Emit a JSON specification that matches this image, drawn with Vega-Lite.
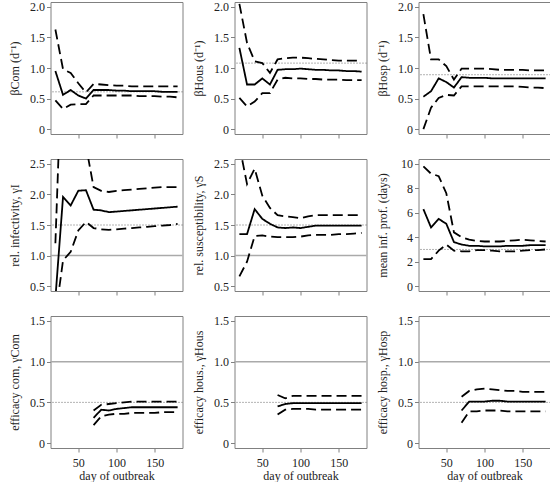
{
"$schema": "https://vega.github.io/schema/vega-lite/v6.json",
"padding": {"left": 7.5, "top": 0, "right": 0, "bottom": 0},
"background": "white",
"bounds": "flush",
"columns": 3,
"spacing": {"row": 25, "column": 52},
"config": {
  "font": "Liberation Serif",
  "view": {"stroke": "#808080", "strokeWidth": 1},
  "axis": {"domain": false, "grid": false, "tickColor": "#808080", "tickSize": 4, "labelFontSize": 12, "titleFontSize": 12, "labelColor": "#222", "titleColor": "#222", "titleFontWeight": "normal", "labelFont": "Liberation Serif", "titleFont": "Liberation Serif", "labelOverlap": false},
  "axisY": {"labelPadding": 2, "titleX": -36, "titleY": 66, "titleBaseline": "middle"},
  "axisX": {"labelPadding": 5, "titlePadding": 2, "labelFlush": false},
  "line": {"color": "black", "strokeWidth": 1.8}
},
"datasets": {
"est": [
{"p":"A","d":20,"m":0.95,"l":0.47,"u":1.63},{"p":"A","d":30,"m":0.56,"l":0.33,"u":0.98},{"p":"A","d":40,"m":0.64,"l":0.40,"u":0.92},{"p":"A","d":50,"m":0.55,"l":0.41,"u":0.75},{"p":"A","d":60,"m":0.50,"l":0.41,"u":0.60},{"p":"A","d":70,"m":0.64,"l":0.55,"u":0.74},{"p":"A","d":80,"m":0.64,"l":0.55,"u":0.73},{"p":"A","d":90,"m":0.64,"l":0.55,"u":0.72},{"p":"A","d":100,"m":0.63,"l":0.55,"u":0.71},{"p":"A","d":110,"m":0.63,"l":0.55,"u":0.71},{"p":"A","d":120,"m":0.62,"l":0.55,"u":0.70},{"p":"A","d":130,"m":0.62,"l":0.54,"u":0.70},{"p":"A","d":140,"m":0.62,"l":0.54,"u":0.70},{"p":"A","d":150,"m":0.62,"l":0.54,"u":0.70},{"p":"A","d":160,"m":0.61,"l":0.53,"u":0.70},{"p":"A","d":170,"m":0.61,"l":0.53,"u":0.70},{"p":"A","d":180,"m":0.61,"l":0.52,"u":0.70},
{"p":"B","d":20,"m":1.33,"l":0.51,"u":2.05},{"p":"B","d":30,"m":0.73,"l":0.37,"u":1.41},{"p":"B","d":40,"m":0.73,"l":0.45,"u":1.11},{"p":"B","d":50,"m":0.83,"l":0.59,"u":1.08},{"p":"B","d":60,"m":0.73,"l":0.59,"u":0.92},{"p":"B","d":70,"m":0.97,"l":0.81,"u":1.14},{"p":"B","d":80,"m":0.98,"l":0.84,"u":1.16},{"p":"B","d":90,"m":0.98,"l":0.83,"u":1.17},{"p":"B","d":100,"m":0.99,"l":0.83,"u":1.17},{"p":"B","d":110,"m":0.98,"l":0.82,"u":1.16},{"p":"B","d":120,"m":0.97,"l":0.82,"u":1.15},{"p":"B","d":130,"m":0.97,"l":0.81,"u":1.14},{"p":"B","d":140,"m":0.96,"l":0.81,"u":1.13},{"p":"B","d":150,"m":0.96,"l":0.81,"u":1.12},{"p":"B","d":160,"m":0.95,"l":0.80,"u":1.12},{"p":"B","d":170,"m":0.95,"l":0.80,"u":1.12},{"p":"B","d":180,"m":0.94,"l":0.80,"u":1.12},
{"p":"C","d":20,"m":0.53,"l":0.00,"u":1.88},{"p":"C","d":30,"m":0.62,"l":0.35,"u":1.14},{"p":"C","d":40,"m":0.83,"l":0.51,"u":1.14},{"p":"C","d":50,"m":0.77,"l":0.56,"u":1.03},{"p":"C","d":60,"m":0.68,"l":0.55,"u":0.81},{"p":"C","d":70,"m":0.85,"l":0.70,"u":0.99},{"p":"C","d":80,"m":0.84,"l":0.70,"u":0.99},{"p":"C","d":90,"m":0.84,"l":0.70,"u":0.99},{"p":"C","d":100,"m":0.84,"l":0.70,"u":0.99},{"p":"C","d":110,"m":0.83,"l":0.70,"u":0.98},{"p":"C","d":120,"m":0.83,"l":0.70,"u":0.97},{"p":"C","d":130,"m":0.83,"l":0.70,"u":0.97},{"p":"C","d":140,"m":0.83,"l":0.70,"u":0.97},{"p":"C","d":150,"m":0.83,"l":0.69,"u":0.97},{"p":"C","d":160,"m":0.83,"l":0.68,"u":0.96},{"p":"C","d":170,"m":0.83,"l":0.68,"u":0.96},{"p":"C","d":180,"m":0.83,"l":0.67,"u":0.96},
{"p":"D","d":20,"m":0.3,"l":0.0,"u":1.2},{"p":"D","d":30,"m":1.96,"l":0.92,"u":4.7},{"p":"D","d":40,"m":1.82,"l":1.06,"u":4.5},{"p":"D","d":50,"m":2.06,"l":1.41,"u":4.0},{"p":"D","d":60,"m":2.07,"l":1.55,"u":2.8},{"p":"D","d":70,"m":1.75,"l":1.45,"u":2.12},{"p":"D","d":80,"m":1.74,"l":1.43,"u":2.06},{"p":"D","d":90,"m":1.71,"l":1.42,"u":2.04},{"p":"D","d":100,"m":1.72,"l":1.43,"u":2.06},{"p":"D","d":110,"m":1.73,"l":1.44,"u":2.07},{"p":"D","d":120,"m":1.74,"l":1.45,"u":2.08},{"p":"D","d":130,"m":1.75,"l":1.46,"u":2.09},{"p":"D","d":140,"m":1.76,"l":1.47,"u":2.10},{"p":"D","d":150,"m":1.77,"l":1.48,"u":2.11},{"p":"D","d":160,"m":1.78,"l":1.49,"u":2.12},{"p":"D","d":170,"m":1.79,"l":1.50,"u":2.12},{"p":"D","d":180,"m":1.80,"l":1.52,"u":2.12},
{"p":"E","d":20,"m":1.35,"l":0.66,"u":2.8},{"p":"E","d":30,"m":1.35,"l":0.9,"u":2.17},{"p":"E","d":40,"m":1.76,"l":1.32,"u":2.42},{"p":"E","d":50,"m":1.60,"l":1.33,"u":1.98},{"p":"E","d":60,"m":1.52,"l":1.31,"u":1.78},{"p":"E","d":70,"m":1.46,"l":1.30,"u":1.66},{"p":"E","d":80,"m":1.45,"l":1.30,"u":1.64},{"p":"E","d":90,"m":1.46,"l":1.30,"u":1.63},{"p":"E","d":100,"m":1.45,"l":1.31,"u":1.61},{"p":"E","d":110,"m":1.47,"l":1.33,"u":1.64},{"p":"E","d":120,"m":1.49,"l":1.34,"u":1.66},{"p":"E","d":130,"m":1.49,"l":1.34,"u":1.66},{"p":"E","d":140,"m":1.49,"l":1.34,"u":1.66},{"p":"E","d":150,"m":1.49,"l":1.35,"u":1.66},{"p":"E","d":160,"m":1.49,"l":1.35,"u":1.66},{"p":"E","d":170,"m":1.49,"l":1.36,"u":1.66},{"p":"E","d":180,"m":1.49,"l":1.37,"u":1.66},
{"p":"F","d":20,"m":6.3,"l":2.2,"u":9.8},{"p":"F","d":30,"m":4.8,"l":2.2,"u":9.2},{"p":"F","d":40,"m":5.5,"l":2.9,"u":9.0},{"p":"F","d":50,"m":5.1,"l":3.4,"u":7.6},{"p":"F","d":60,"m":3.6,"l":2.9,"u":4.4},{"p":"F","d":70,"m":3.4,"l":2.85,"u":4.0},{"p":"F","d":80,"m":3.3,"l":2.85,"u":3.8},{"p":"F","d":90,"m":3.3,"l":2.95,"u":3.7},{"p":"F","d":100,"m":3.25,"l":2.95,"u":3.65},{"p":"F","d":110,"m":3.25,"l":2.9,"u":3.65},{"p":"F","d":120,"m":3.25,"l":2.85,"u":3.65},{"p":"F","d":130,"m":3.3,"l":2.85,"u":3.7},{"p":"F","d":140,"m":3.3,"l":2.85,"u":3.75},{"p":"F","d":150,"m":3.3,"l":2.9,"u":3.8},{"p":"F","d":160,"m":3.35,"l":2.95,"u":3.75},{"p":"F","d":170,"m":3.35,"l":2.95,"u":3.7},{"p":"F","d":180,"m":3.35,"l":3.0,"u":3.65},
{"p":"G","d":70,"m":0.31,"l":0.22,"u":0.40},{"p":"G","d":80,"m":0.41,"l":0.33,"u":0.47},{"p":"G","d":90,"m":0.40,"l":0.35,"u":0.48},{"p":"G","d":100,"m":0.42,"l":0.36,"u":0.49},{"p":"G","d":110,"m":0.43,"l":0.36,"u":0.50},{"p":"G","d":120,"m":0.44,"l":0.37,"u":0.51},{"p":"G","d":130,"m":0.44,"l":0.37,"u":0.51},{"p":"G","d":140,"m":0.44,"l":0.37,"u":0.51},{"p":"G","d":150,"m":0.44,"l":0.37,"u":0.51},{"p":"G","d":160,"m":0.44,"l":0.38,"u":0.51},{"p":"G","d":170,"m":0.44,"l":0.38,"u":0.51},{"p":"G","d":180,"m":0.44,"l":0.38,"u":0.51},
{"p":"H","d":70,"m":0.45,"l":0.35,"u":0.59},{"p":"H","d":80,"m":0.48,"l":0.41,"u":0.55},{"p":"H","d":90,"m":0.49,"l":0.42,"u":0.58},{"p":"H","d":100,"m":0.49,"l":0.42,"u":0.58},{"p":"H","d":110,"m":0.49,"l":0.42,"u":0.58},{"p":"H","d":120,"m":0.49,"l":0.41,"u":0.58},{"p":"H","d":130,"m":0.49,"l":0.41,"u":0.58},{"p":"H","d":140,"m":0.49,"l":0.41,"u":0.58},{"p":"H","d":150,"m":0.49,"l":0.41,"u":0.58},{"p":"H","d":160,"m":0.49,"l":0.41,"u":0.58},{"p":"H","d":170,"m":0.49,"l":0.41,"u":0.58},{"p":"H","d":180,"m":0.49,"l":0.41,"u":0.58},
{"p":"I","d":70,"m":0.40,"l":0.25,"u":0.57},{"p":"I","d":80,"m":0.51,"l":0.39,"u":0.64},{"p":"I","d":90,"m":0.51,"l":0.39,"u":0.66},{"p":"I","d":100,"m":0.51,"l":0.40,"u":0.67},{"p":"I","d":110,"m":0.52,"l":0.40,"u":0.66},{"p":"I","d":120,"m":0.52,"l":0.40,"u":0.65},{"p":"I","d":130,"m":0.51,"l":0.39,"u":0.64},{"p":"I","d":140,"m":0.51,"l":0.39,"u":0.64},{"p":"I","d":150,"m":0.51,"l":0.39,"u":0.63},{"p":"I","d":160,"m":0.51,"l":0.39,"u":0.63},{"p":"I","d":170,"m":0.51,"l":0.39,"u":0.63},{"p":"I","d":180,"m":0.51,"l":0.39,"u":0.63}
],
"ref": [
{"p":"A","v":0.61,"k":"t"},{"p":"B","v":1.08,"k":"t"},{"p":"C","v":0.89,"k":"t"},
{"p":"D","v":1.0,"k":"o"},{"p":"D","v":1.5,"k":"t"},
{"p":"E","v":1.0,"k":"o"},{"p":"E","v":1.5,"k":"t"},
{"p":"F","v":3.0,"k":"t"},
{"p":"G","v":1.0,"k":"o"},{"p":"G","v":0.5,"k":"t"},
{"p":"H","v":1.0,"k":"o"},{"p":"H","v":0.5,"k":"t"},
{"p":"I","v":1.0,"k":"o"},{"p":"I","v":0.5,"k":"t"}
]
},
"concat": [
{"width":132,"height":132,
 "encoding":{"y":{"field":"v","type":"quantitative","scale":{"domain":[-0.08,2.08],"nice":false,"zero":false},"axis":{"values":[0,0.5,1,1.5,2],"labelExpr":"datum.value == 0 ? '0' : format(datum.value, '.1f')","title":"βCom (d⁻¹)"}}},
 "layer":[
 {"data":{"name":"ref"},"transform":[{"filter":"datum.p=='A' && datum.k=='o'"}],"mark":{"type":"rule","color":"#aaaaaa","strokeWidth":1.5},"encoding":{}},
 {"data":{"name":"ref"},"transform":[{"filter":"datum.p=='A' && datum.k=='t'"}],"mark":{"type":"rule","color":"#666666","strokeWidth":1,"strokeDash":[1,2]},"encoding":{}},
 {"data":{"name":"est"},"transform":[{"filter":"datum.p=='A'"},{"fold":["m","l","u"],"as":["s","v"]}],"mark":{"type":"line","clip":true},"encoding":{"x":{"field":"d","type":"quantitative","scale":{"domain":[13.6,186.4],"nice":false,"zero":false},"axis":{"values":[50,100,150],"labels":false,"title":null}},"strokeDash":{"field":"s","type":"nominal","scale":{"domain":["m","l","u"],"range":[[1,0],[10,5],[10,5]]},"legend":null}}}
]},
{"width":132,"height":132,
 "encoding":{"y":{"field":"v","type":"quantitative","scale":{"domain":[-0.08,2.08],"nice":false,"zero":false},"axis":{"values":[0,0.5,1,1.5,2],"labelExpr":"datum.value == 0 ? '0' : format(datum.value, '.1f')","title":"βHous (d⁻¹)"}}},
 "layer":[
 {"data":{"name":"ref"},"transform":[{"filter":"datum.p=='B' && datum.k=='o'"}],"mark":{"type":"rule","color":"#aaaaaa","strokeWidth":1.5},"encoding":{}},
 {"data":{"name":"ref"},"transform":[{"filter":"datum.p=='B' && datum.k=='t'"}],"mark":{"type":"rule","color":"#666666","strokeWidth":1,"strokeDash":[1,2]},"encoding":{}},
 {"data":{"name":"est"},"transform":[{"filter":"datum.p=='B'"},{"fold":["m","l","u"],"as":["s","v"]}],"mark":{"type":"line","clip":true},"encoding":{"x":{"field":"d","type":"quantitative","scale":{"domain":[13.6,186.4],"nice":false,"zero":false},"axis":{"values":[50,100,150],"labels":false,"title":null}},"strokeDash":{"field":"s","type":"nominal","scale":{"domain":["m","l","u"],"range":[[1,0],[10,5],[10,5]]},"legend":null}}}
]},
{"width":132,"height":132,
 "encoding":{"y":{"field":"v","type":"quantitative","scale":{"domain":[-0.08,2.08],"nice":false,"zero":false},"axis":{"values":[0,0.5,1,1.5,2],"labelExpr":"datum.value == 0 ? '0' : format(datum.value, '.1f')","title":"βHosp (d⁻¹)"}}},
 "layer":[
 {"data":{"name":"ref"},"transform":[{"filter":"datum.p=='C' && datum.k=='o'"}],"mark":{"type":"rule","color":"#aaaaaa","strokeWidth":1.5},"encoding":{}},
 {"data":{"name":"ref"},"transform":[{"filter":"datum.p=='C' && datum.k=='t'"}],"mark":{"type":"rule","color":"#666666","strokeWidth":1,"strokeDash":[1,2]},"encoding":{}},
 {"data":{"name":"est"},"transform":[{"filter":"datum.p=='C'"},{"fold":["m","l","u"],"as":["s","v"]}],"mark":{"type":"line","clip":true},"encoding":{"x":{"field":"d","type":"quantitative","scale":{"domain":[13.6,186.4],"nice":false,"zero":false},"axis":{"values":[50,100,150],"labels":false,"title":null}},"strokeDash":{"field":"s","type":"nominal","scale":{"domain":["m","l","u"],"range":[[1,0],[10,5],[10,5]]},"legend":null}}}
]},
{"width":132,"height":132,
 "encoding":{"y":{"field":"v","type":"quantitative","scale":{"domain":[0.42,2.58],"nice":false,"zero":false},"axis":{"values":[0.5,1,1.5,2,2.5],"format":".1f","title":"rel. infectivity, γI"}}},
 "layer":[
 {"data":{"name":"ref"},"transform":[{"filter":"datum.p=='D' && datum.k=='o'"}],"mark":{"type":"rule","color":"#aaaaaa","strokeWidth":1.5},"encoding":{}},
 {"data":{"name":"ref"},"transform":[{"filter":"datum.p=='D' && datum.k=='t'"}],"mark":{"type":"rule","color":"#666666","strokeWidth":1,"strokeDash":[1,2]},"encoding":{}},
 {"data":{"name":"est"},"transform":[{"filter":"datum.p=='D'"},{"fold":["m","l","u"],"as":["s","v"]}],"mark":{"type":"line","clip":true},"encoding":{"x":{"field":"d","type":"quantitative","scale":{"domain":[13.6,186.4],"nice":false,"zero":false},"axis":{"values":[50,100,150],"labels":false,"title":null}},"strokeDash":{"field":"s","type":"nominal","scale":{"domain":["m","l","u"],"range":[[1,0],[10,5],[10,5]]},"legend":null}}}
]},
{"width":132,"height":132,
 "encoding":{"y":{"field":"v","type":"quantitative","scale":{"domain":[0.42,2.58],"nice":false,"zero":false},"axis":{"values":[0.5,1,1.5,2,2.5],"format":".1f","title":"rel. susceptibility, γS"}}},
 "layer":[
 {"data":{"name":"ref"},"transform":[{"filter":"datum.p=='E' && datum.k=='o'"}],"mark":{"type":"rule","color":"#aaaaaa","strokeWidth":1.5},"encoding":{}},
 {"data":{"name":"ref"},"transform":[{"filter":"datum.p=='E' && datum.k=='t'"}],"mark":{"type":"rule","color":"#666666","strokeWidth":1,"strokeDash":[1,2]},"encoding":{}},
 {"data":{"name":"est"},"transform":[{"filter":"datum.p=='E'"},{"fold":["m","l","u"],"as":["s","v"]}],"mark":{"type":"line","clip":true},"encoding":{"x":{"field":"d","type":"quantitative","scale":{"domain":[13.6,186.4],"nice":false,"zero":false},"axis":{"values":[50,100,150],"labels":false,"title":null}},"strokeDash":{"field":"s","type":"nominal","scale":{"domain":["m","l","u"],"range":[[1,0],[10,5],[10,5]]},"legend":null}}}
]},
{"width":132,"height":132,
 "encoding":{"y":{"field":"v","type":"quantitative","scale":{"domain":[-0.4,10.4],"nice":false,"zero":false},"axis":{"values":[0,2,4,6,8,10],"format":"d","title":"mean inf. prof. (days)"}}},
 "layer":[
 {"data":{"name":"ref"},"transform":[{"filter":"datum.p=='F' && datum.k=='o'"}],"mark":{"type":"rule","color":"#aaaaaa","strokeWidth":1.5},"encoding":{}},
 {"data":{"name":"ref"},"transform":[{"filter":"datum.p=='F' && datum.k=='t'"}],"mark":{"type":"rule","color":"#666666","strokeWidth":1,"strokeDash":[1,2]},"encoding":{}},
 {"data":{"name":"est"},"transform":[{"filter":"datum.p=='F'"},{"fold":["m","l","u"],"as":["s","v"]}],"mark":{"type":"line","clip":true},"encoding":{"x":{"field":"d","type":"quantitative","scale":{"domain":[13.6,186.4],"nice":false,"zero":false},"axis":{"values":[50,100,150],"labels":false,"title":null}},"strokeDash":{"field":"s","type":"nominal","scale":{"domain":["m","l","u"],"range":[[1,0],[10,5],[10,5]]},"legend":null}}}
]},
{"width":132,"height":132,
 "encoding":{"y":{"field":"v","type":"quantitative","scale":{"domain":[-0.06,1.56],"nice":false,"zero":false},"axis":{"values":[0,0.5,1,1.5],"labelExpr":"datum.value == 0 ? '0' : format(datum.value, '.1f')","title":"efficacy com, γCom"}}},
 "layer":[
 {"data":{"name":"ref"},"transform":[{"filter":"datum.p=='G' && datum.k=='o'"}],"mark":{"type":"rule","color":"#aaaaaa","strokeWidth":1.5},"encoding":{}},
 {"data":{"name":"ref"},"transform":[{"filter":"datum.p=='G' && datum.k=='t'"}],"mark":{"type":"rule","color":"#666666","strokeWidth":1,"strokeDash":[1,2]},"encoding":{}},
 {"data":{"name":"est"},"transform":[{"filter":"datum.p=='G'"},{"fold":["m","l","u"],"as":["s","v"]}],"mark":{"type":"line","clip":true},"encoding":{"x":{"field":"d","type":"quantitative","scale":{"domain":[13.6,186.4],"nice":false,"zero":false},"axis":{"values":[50,100,150],"title":"day of outbreak"}},"strokeDash":{"field":"s","type":"nominal","scale":{"domain":["m","l","u"],"range":[[1,0],[10,5],[10,5]]},"legend":null}}}
]},
{"width":132,"height":132,
 "encoding":{"y":{"field":"v","type":"quantitative","scale":{"domain":[-0.06,1.56],"nice":false,"zero":false},"axis":{"values":[0,0.5,1,1.5],"labelExpr":"datum.value == 0 ? '0' : format(datum.value, '.1f')","title":"efficacy hous., γHous"}}},
 "layer":[
 {"data":{"name":"ref"},"transform":[{"filter":"datum.p=='H' && datum.k=='o'"}],"mark":{"type":"rule","color":"#aaaaaa","strokeWidth":1.5},"encoding":{}},
 {"data":{"name":"ref"},"transform":[{"filter":"datum.p=='H' && datum.k=='t'"}],"mark":{"type":"rule","color":"#666666","strokeWidth":1,"strokeDash":[1,2]},"encoding":{}},
 {"data":{"name":"est"},"transform":[{"filter":"datum.p=='H'"},{"fold":["m","l","u"],"as":["s","v"]}],"mark":{"type":"line","clip":true},"encoding":{"x":{"field":"d","type":"quantitative","scale":{"domain":[13.6,186.4],"nice":false,"zero":false},"axis":{"values":[50,100,150],"title":"day of outbreak"}},"strokeDash":{"field":"s","type":"nominal","scale":{"domain":["m","l","u"],"range":[[1,0],[10,5],[10,5]]},"legend":null}}}
]},
{"width":132,"height":132,
 "encoding":{"y":{"field":"v","type":"quantitative","scale":{"domain":[-0.06,1.56],"nice":false,"zero":false},"axis":{"values":[0,0.5,1,1.5],"labelExpr":"datum.value == 0 ? '0' : format(datum.value, '.1f')","title":"efficacy hosp., γHosp"}}},
 "layer":[
 {"data":{"name":"ref"},"transform":[{"filter":"datum.p=='I' && datum.k=='o'"}],"mark":{"type":"rule","color":"#aaaaaa","strokeWidth":1.5},"encoding":{}},
 {"data":{"name":"ref"},"transform":[{"filter":"datum.p=='I' && datum.k=='t'"}],"mark":{"type":"rule","color":"#666666","strokeWidth":1,"strokeDash":[1,2]},"encoding":{}},
 {"data":{"name":"est"},"transform":[{"filter":"datum.p=='I'"},{"fold":["m","l","u"],"as":["s","v"]}],"mark":{"type":"line","clip":true},"encoding":{"x":{"field":"d","type":"quantitative","scale":{"domain":[13.6,186.4],"nice":false,"zero":false},"axis":{"values":[50,100,150],"title":"day of outbreak"}},"strokeDash":{"field":"s","type":"nominal","scale":{"domain":["m","l","u"],"range":[[1,0],[10,5],[10,5]]},"legend":null}}}
]}
]
}
